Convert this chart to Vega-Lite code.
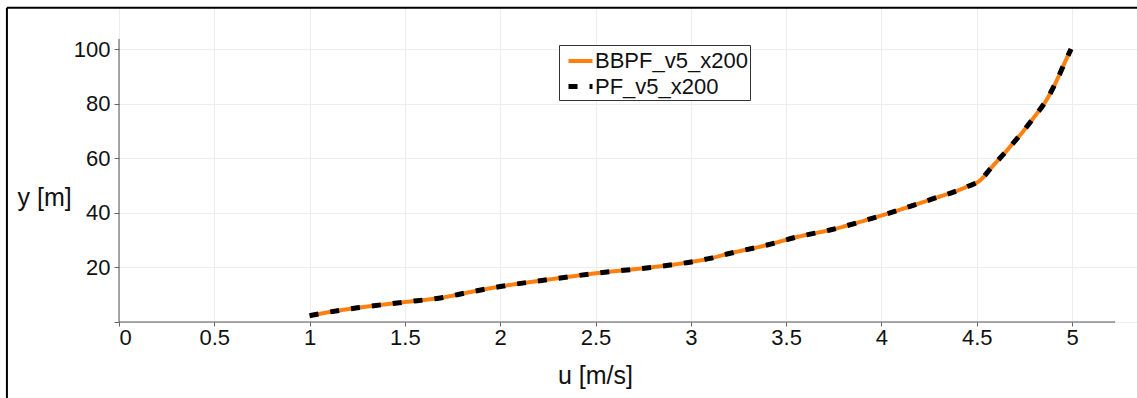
{
  "$schema": "https://vega.github.io/schema/vega-lite/v6.json",
  "width": 1018,
  "height": 315,
  "autosize": "none",
  "padding": {"left": 119, "top": 7, "right": 0, "bottom": 76},
  "background": "white",
  "config": {"view": {"stroke": null}, "font": "Liberation Sans"},
  "datasets": {
    "profile": [
      {"u": 1.0, "y": 2.3}, {"u": 1.1, "y": 3.6}, {"u": 1.25, "y": 5.2}, {"u": 1.5, "y": 7.3},
      {"u": 1.7, "y": 9.0}, {"u": 1.83, "y": 10.8}, {"u": 2.0, "y": 13.0}, {"u": 2.26, "y": 15.6},
      {"u": 2.52, "y": 18.0}, {"u": 2.79, "y": 20.0}, {"u": 3.01, "y": 22.1}, {"u": 3.1, "y": 23.3},
      {"u": 3.19, "y": 24.9}, {"u": 3.4, "y": 28.2}, {"u": 3.56, "y": 31.2}, {"u": 3.73, "y": 33.7},
      {"u": 3.99, "y": 38.8}, {"u": 4.26, "y": 44.9}, {"u": 4.45, "y": 49.6}, {"u": 4.52, "y": 52.0},
      {"u": 4.57, "y": 56.0}, {"u": 4.66, "y": 63.0}, {"u": 4.79, "y": 74.0}, {"u": 4.88, "y": 83.0},
      {"u": 4.93, "y": 90.0}, {"u": 4.965, "y": 95.5}, {"u": 4.995, "y": 100.0}
    ],
    "one": [{"k": 1}]
  },
  "layer": [
    {
      "data": {"name": "one"},
      "mark": {"type": "rule", "color": "#000000", "strokeWidth": 2, "clip": false},
      "encoding": {"x": {"datum": -0.588, "type": "quantitative"}, "x2": {"datum": 5.341}, "y": {"datum": 115.1, "type": "quantitative"}}
    },
    {
      "data": {"name": "one"},
      "mark": {"type": "rule", "color": "#000000", "strokeWidth": 2, "clip": false},
      "encoding": {"x": {"datum": -0.588, "type": "quantitative"}, "y": {"datum": 115.1, "type": "quantitative"}, "y2": {"datum": -30}}
    },
    {
      "data": {"name": "profile"},
      "transform": [{"fold": ["BBPF_v5_x200", "PF_v5_x200"], "as": ["series", "dummy"]}],
      "mark": {"type": "line", "interpolate": "monotone"},
      "encoding": {
        "x": {
          "field": "u", "type": "quantitative",
          "scale": {"domain": [0, 5.341], "nice": false, "zero": false},
          "axis": {
            "title": "u [m/s]", "values": [0, 0.5, 1, 1.5, 2, 2.5, 3, 3.5, 4, 4.5, 5], "format": "~g",
            "domain": false, "grid": true, "gridColor": "#ededed", "gridWidth": 1,
            "tickColor": "#666666", "tickSize": 4, "labelPadding": 1,
            "labelFont": "Liberation Sans", "labelFontSize": 22, "labelColor": "#111111",
            "titleFont": "Liberation Sans", "titleFontSize": 25, "titleFontWeight": "normal", "titleColor": "#111111",
            "titleX": 476, "titleY": 53, "titleAlign": "center", "titleBaseline": "middle", "titleAnchor": null
          }
        },
        "y": {
          "field": "y", "type": "quantitative",
          "scale": {"domain": [0, 115.4], "nice": false, "zero": false},
          "axis": {
            "title": "y [m]", "values": [0, 20, 40, 60, 80, 100],
            "labelExpr": "datum.value == 0 ? '' : datum.label",
            "domain": false, "grid": true, "gridColor": "#ededed", "gridWidth": 1,
            "tickColor": "#666666", "tickSize": 5, "labelPadding": 4,
            "labelFont": "Liberation Sans", "labelFontSize": 22, "labelColor": "#111111",
            "titleFont": "Liberation Sans", "titleFontSize": 25, "titleFontWeight": "normal", "titleColor": "#111111",
            "titleAngle": 0, "titleX": -102, "titleY": 190, "titleAlign": "left", "titleBaseline": "middle"
          }
        },
        "color": {
          "field": "series", "type": "nominal",
          "scale": {"domain": ["BBPF_v5_x200", "PF_v5_x200"], "range": ["#ff7f0e", "#000000"]},
          "legend": {
            "title": null, "orient": "none", "legendX": 440, "legendY": 38,
            "strokeColor": "#333333", "fillColor": "white", "padding": 2,
            "symbolType": "stroke", "symbolSize": 576, "symbolStrokeWidth": 4, "symbolOffset": 5,
            "labelFont": "Liberation Sans", "labelFontSize": 22, "labelColor": "#111111",
            "labelOffset": 0, "rowPadding": 0
          }
        },
        "strokeDash": {
          "field": "series", "type": "nominal",
          "scale": {"domain": ["BBPF_v5_x200", "PF_v5_x200"], "range": [[1, 0], [9, 12]]},
          "legend": {
            "title": null, "orient": "none", "legendX": 440, "legendY": 38,
            "strokeColor": "#333333", "fillColor": "white", "padding": 2,
            "symbolType": "stroke", "symbolSize": 576, "symbolStrokeWidth": 4, "symbolOffset": 5,
            "labelFont": "Liberation Sans", "labelFontSize": 22, "labelColor": "#111111",
            "labelOffset": 0, "rowPadding": 0
          }
        },
        "strokeWidth": {
          "field": "series", "type": "nominal",
          "scale": {"domain": ["BBPF_v5_x200", "PF_v5_x200"], "range": [4, 5]},
          "legend": null
        },
        "order": {"field": "u", "type": "quantitative"}
      }
    },
    {
      "data": {"name": "one"},
      "mark": {"type": "rule", "color": "#555555", "strokeWidth": 1},
      "encoding": {"x": {"datum": 0}, "x2": {"datum": 5.226}, "y": {"datum": 0}}
    },
    {
      "data": {"name": "one"},
      "mark": {"type": "rule", "color": "#555555", "strokeWidth": 1},
      "encoding": {"x": {"datum": 0}, "y": {"datum": 0}, "y2": {"datum": 103.7}}
    }
  ]
}
